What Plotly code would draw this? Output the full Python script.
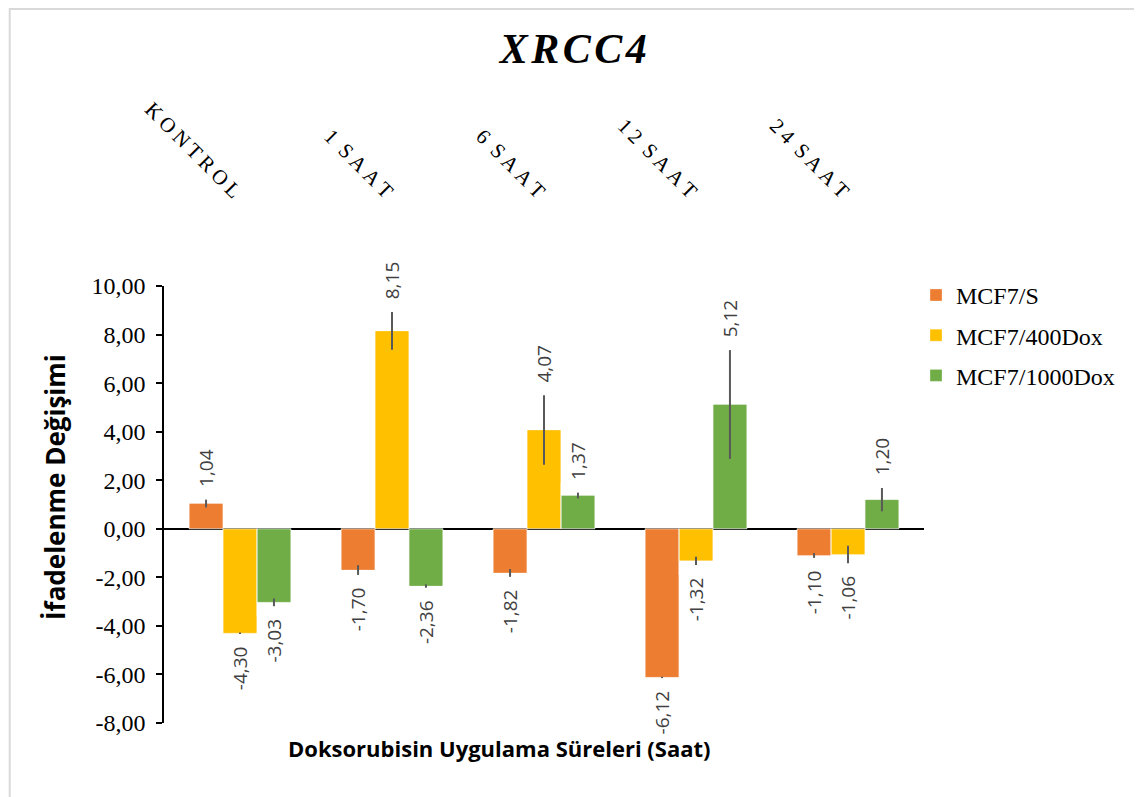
import plotly.graph_objects as go

# data
categories = ["KONTROL", "1 SAAT", "6 SAAT", "12 SAAT", "24 SAAT"]
tick_text = ["K\u2009O\u2009N\u2009T\u2009R\u2009O\u2009L", "1 \u2009S\u2009A\u2009A\u2009T",
             "6 \u2009S\u2009A\u2009A\u2009T", "1\u20092 \u2009S\u2009A\u2009A\u2009T",
             "2\u20094 \u2009S\u2009A\u2009A\u2009T"]
y_ticks = [-8, -6, -4, -2, 0, 2, 4, 6, 8, 10]
y_tick_text = ["-8,00", "-6,00", "-4,00", "-2,00", "0,00", "2,00", "4,00", "6,00", "8,00", "10,00"]
series_names = ["MCF7/S", "MCF7/400Dox", "MCF7/1000Dox"]
mcf7_s = [1.04, -1.70, -1.82, -6.12, -1.10]
mcf7_400 = [-4.30, 8.15, 4.07, -1.32, -1.06]
mcf7_1000 = [-3.03, -2.36, 1.37, 5.12, 1.20]
err_s = [0.16, 0.20, 0.16, 0.03, 0.10]
err_400 = [0.03, 0.78, 1.43, 0.17, 0.36]
err_1000 = [0.16, 0.07, 0.12, 2.24, 0.48]
colors = ["#ED7D31", "#FFC000", "#70AD47"]

values = [mcf7_s, mcf7_400, mcf7_1000]
errors = [err_s, err_400, err_1000]
label_pad = 0.4  # extra room between error bar end and value label

fig = go.Figure()

for i, name in enumerate(series_names):
    fig.add_trace(go.Bar(
        x=categories, y=values[i], name=name,
        offsetgroup=str(i), legendgroup=str(i),
        marker=dict(color=colors[i], line=dict(width=1, color="rgba(255,255,255,0.3)")),
        error_y=dict(type="data", array=errors[i], color="#595959", thickness=2, width=0),
    ))

# invisible bars reaching past the error bars, used only to carry the value labels
for i, name in enumerate(series_names):
    ends = [v + e + label_pad if v >= 0 else v - e - label_pad
            for v, e in zip(values[i], errors[i])]
    labels = [f"{v:.2f}".replace(".", ",") for v in values[i]]
    fig.add_trace(go.Bar(
        x=categories, y=ends, offsetgroup=str(i), showlegend=False, hoverinfo="skip",
        marker=dict(color="rgba(0,0,0,0)"),
        text=labels, textposition="outside", textangle=-90, cliponaxis=False,
        constraintext="none",
        textfont=dict(family="Open Sans, sans-serif", size=19, color="#404040"),
    ))

# the page body adds 8px, so margins are 8px smaller on left/top
fig.update_layout(
    width=1142, height=797,
    template="plotly_white",
    paper_bgcolor="white", plot_bgcolor="white",
    separators=",.",
    barmode="group", bargap=0.33, bargroupgap=0,
    margin=dict(l=156, r=226, t=278, b=82),
    title=dict(
        text="<b><i>X\u200aR\u200aC\u200aC\u200a4</i></b>",
        x=0.495, xanchor="center", y=0.949, yanchor="middle",
        font=dict(family="Liberation Serif, serif", size=42, color="black"),
    ),
    xaxis=dict(
        side="top", tickmode="array", tickvals=categories, ticktext=tick_text,
        tickangle=45, showline=False, showgrid=False, automargin=False,
        ticks="outside", ticklen=74, tickcolor="rgba(0,0,0,0)",
        tickfont=dict(family="Liberation Serif, serif", size=21, color="black"),
    ),
    yaxis=dict(
        range=[-8, 10], tickmode="array", tickvals=y_ticks, ticktext=y_tick_text,
        automargin=False,
        showgrid=False, zeroline=True, zerolinecolor="black", zerolinewidth=2,
        showline=True, linecolor="black", linewidth=1.5,
        ticks="outside", ticklen=6, tickcolor="black", tickwidth=1.5,
        ticklabelstandoff=6,
        tickfont=dict(family="Liberation Serif, serif", size=24, color="black"),
    ),
    legend=dict(
        x=0.9895, xanchor="left", y=1.03, yanchor="top",
        font=dict(family="Liberation Serif, serif", size=24, color="black"),
        tracegroupgap=6, itemwidth=30,
    ),
    annotations=[
        dict(text="<b>Doksorubisin Uygulama Süreleri (Saat)</b>",
             xref="paper", yref="paper", x=0.441, y=-0.057, xanchor="center", yanchor="middle",
             showarrow=False, font=dict(family="Open Sans, sans-serif", size=22, color="black")),
        dict(text="<b>İfadelenme Değişimi</b>", textangle=-90,
             xref="paper", yref="paper", x=-0.1434, y=0.540, xanchor="center", yanchor="middle",
             showarrow=False, font=dict(family="Open Sans, sans-serif", size=26, color="black")),
    ],
    shapes=[dict(
        type="rect", xref="paper", yref="paper",
        x0=-0.203, x1=1.285, y0=-0.2, y1=1.634,
        line=dict(color="#d9d9d9", width=2), fillcolor="rgba(0,0,0,0)", layer="below",
    )],
)

fig.write_html("out.html")
